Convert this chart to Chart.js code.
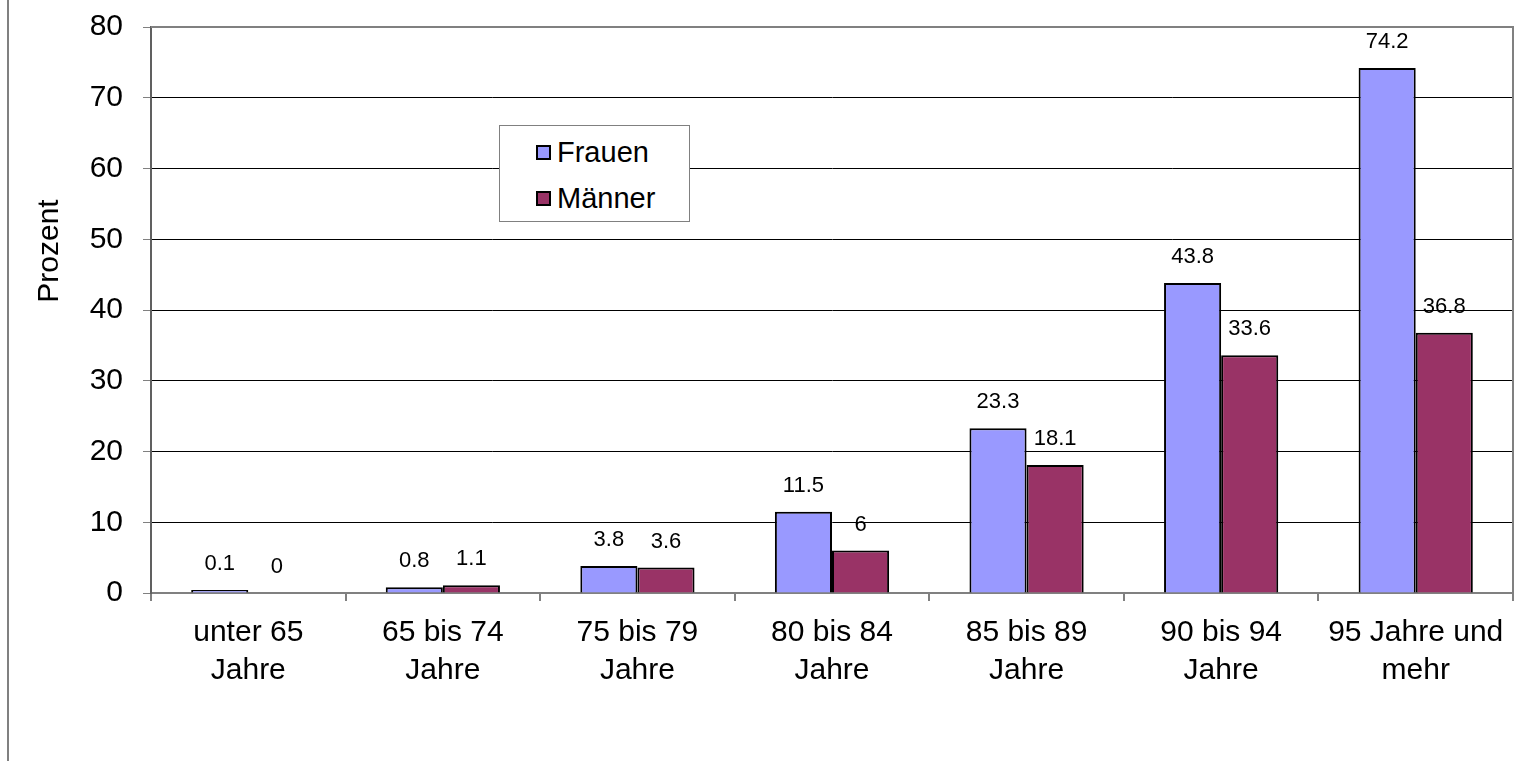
<!DOCTYPE html>
<html>
<head>
<meta charset="utf-8">
<script src="https://cdn.jsdelivr.net/npm/chart.js@4.4.0/dist/chart.umd.min.js"></script>
<style>
  html, body { margin: 0; padding: 0; background: #fff; }
  #wrap { position: relative; width: 1518px; height: 761px; font-family: "Liberation Sans", Arial, sans-serif; }
  #frame { position: absolute; left: 7px; top: 0; width: 2px; height: 761px; background: #808080; }
  #legend { position: absolute; left: 499px; top: 125px; width: 189px; height: 95px; border: 1px solid #808080; background: #fff; }
  .item { position: absolute; left: 36px; font-size: 29px; line-height: 32px; color: #000; white-space: nowrap; }
  .item span { display: inline-block; width: 11px; height: 11px; border: 2px solid #000; margin-right: 6px; vertical-align: 2px; }
</style>
</head>
<body>
<div id="wrap">
  <canvas id="chart" width="1518" height="761"></canvas>
  <div id="frame"></div>
  <div id="legend">
    <div class="item" style="top:10px"><span style="background:#9999FF"></span>Frauen</div>
    <div class="item" style="top:56px"><span style="background:#993366"></span>Männer</div>
  </div>
</div>
<script>
const categories = [
  ['unter 65', 'Jahre'],
  ['65 bis 74', 'Jahre'],
  ['75 bis 79', 'Jahre'],
  ['80 bis 84', 'Jahre'],
  ['85 bis 89', 'Jahre'],
  ['90 bis 94', 'Jahre'],
  ['95 Jahre und', 'mehr']
];
const frauen = [0.1, 0.8, 3.8, 11.5, 23.3, 43.8, 74.2];
const maenner = [0, 1.1, 3.6, 6, 18.1, 33.6, 36.8];

const FONT = '"Liberation Sans", Arial, sans-serif';

// value labels above bars, y axis title, gray frame around plot area
const labelsPlugin = {
  id: 'labels',
  afterDatasetsDraw(chart) {
    const ctx = chart.ctx;
    ctx.save();
    ctx.font = '22px ' + FONT;
    ctx.fillStyle = '#000';
    ctx.textAlign = 'center';
    ctx.textBaseline = 'middle';
    chart.data.datasets.forEach((ds, i) => {
      chart.getDatasetMeta(i).data.forEach((bar, j) => {
        ctx.fillText(String(ds.data[j]), bar.x, bar.y - 26);
      });
    });
    const a = chart.chartArea;
    ctx.strokeStyle = '#808080';
    ctx.lineWidth = 2;
    ctx.beginPath();
    ctx.moveTo(a.left, a.top);
    ctx.lineTo(a.right, a.top);
    ctx.lineTo(a.right, a.bottom);
    ctx.stroke();

    ctx.translate(50, 251);
    ctx.rotate(-Math.PI / 2);
    ctx.font = '30px ' + FONT;
    ctx.fillText('Prozent', 0, 0);
    ctx.restore();
  }
};

new Chart(document.getElementById('chart'), {
  type: 'bar',
  data: {
    labels: categories,
    datasets: [
      { label: 'Frauen', data: frauen, backgroundColor: '#9999FF', borderColor: '#000', borderWidth: 2, minBarLength: 3 },
      { label: 'Männer', data: maenner, backgroundColor: '#993366', borderColor: '#000', borderWidth: 2 }
    ]
  },
  options: {
    responsive: false,
    animation: false,
    layout: { padding: { left: 0, top: 27, right: 5, bottom: 0 } },
    datasets: { bar: { categoryPercentage: 0.587, barPercentage: 1 } },
    plugins: { legend: { display: false }, tooltip: { enabled: false } },
    scales: {
      x: {
        afterFit(scale) { scale.height = 168; scale.paddingLeft = 0; scale.paddingRight = 0; },
        grid: { offset: true, drawOnChartArea: false, drawTicks: true, tickLength: 8, color: '#808080', lineWidth: 2 },
        border: { color: '#808080', width: 2 },
        ticks: { color: '#000', font: { family: FONT, size: 30, lineHeight: 1.25 }, padding: 13, maxRotation: 0, autoSkip: false }
      },
      y: {
        min: 0, max: 80,
        afterFit(scale) { scale.width = 151; scale.paddingTop = 0; scale.paddingBottom = 0; },
        grid: {
          color: ctx => (ctx.tick && (ctx.tick.value === 0 || ctx.tick.value === 80)) ? '#808080' : '#000',
          tickColor: '#808080', tickLength: 8, lineWidth: 1
        },
        border: { color: '#606060', width: 2 },
        ticks: { stepSize: 10, color: '#000', font: { family: FONT, size: 30 }, padding: 20 }
      }
    }
  },
  plugins: [labelsPlugin]
});
</script>
</body>
</html>
